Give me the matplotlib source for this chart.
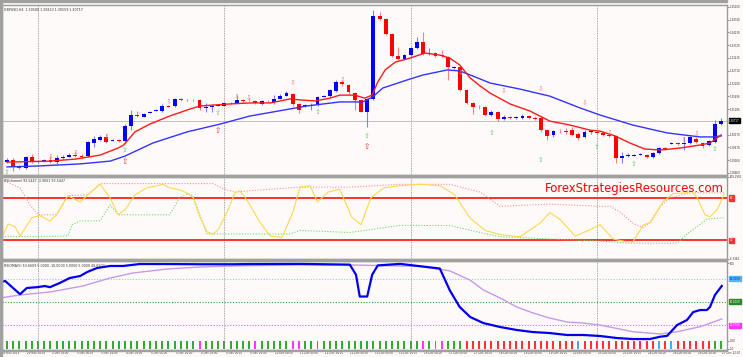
import matplotlib
matplotlib.use("Agg")
import matplotlib.pyplot as plt
from matplotlib.patches import Rectangle

# ---- price pane (GBPUSD H4) ----
opens = [1.2908, 1.2916, 1.2893, 1.2885, 1.2928, 1.2908, 1.2912, 1.2916, 1.2908, 1.2924,
         1.2928, 1.2936, 1.2932, 1.2932, 1.2984, 1.2996, 1.3008, 1.2992, 1.2996, 1.2992,
         1.3051, 1.3095, 1.3087, 1.3103, 1.3111, 1.3111, 1.3131, 1.3131, 1.3159, 1.3153,
         1.3155, 1.3155, 1.3123, 1.3127, 1.3131, 1.3131, 1.3141, 1.3143, 1.3155, 1.3155,
         1.3151, 1.3139, 1.3151, 1.3147, 1.3159, 1.3170, 1.3178, 1.3139, 1.3131, 1.3131,
         1.3135, 1.3166, 1.3170, 1.3190, 1.3226, 1.3214, 1.3182, 1.3155, 1.3107, 1.3159,
         1.3488, 1.3476, 1.3417, 1.3329, 1.3317, 1.3333, 1.3361, 1.3385, 1.3337, 1.3341,
         1.3333, 1.3325, 1.3282, 1.3286, 1.3194, 1.3143, 1.3127, 1.3127, 1.3095, 1.3107,
         1.3079, 1.3087, 1.3083, 1.3083, 1.3091, 1.3083, 1.3083, 1.3036, 1.3016, 1.3032,
         1.3032, 1.3036, 1.3020, 1.3008, 1.3028, 1.3028, 1.3024, 1.3016, 1.3012, 1.2924,
         1.2932, 1.2934, 1.2936, 1.2936, 1.2928, 1.2944, 1.2964, 1.2980, 1.2984, 1.2980,
         1.2984, 1.3000, 1.2984, 1.2976, 1.2988, 1.30580]
highs = [1.2924, 1.2924, 1.2897, 1.2932, 1.2940, 1.2916, 1.2920, 1.2932, 1.2936, 1.2936,
         1.2944, 1.2948, 1.2940, 1.2992, 1.3012, 1.3016, 1.3020, 1.3000, 1.3000, 1.3059,
         1.3115, 1.3111, 1.3103, 1.3111, 1.3119, 1.3139, 1.3135, 1.3162, 1.3162, 1.3159,
         1.3157, 1.3159, 1.3143, 1.3139, 1.3139, 1.3147, 1.3147, 1.3174, 1.3159, 1.3162,
         1.3155, 1.3155, 1.3155, 1.3174, 1.3178, 1.3190, 1.3182, 1.3143, 1.3139, 1.3143,
         1.3170, 1.3174, 1.3198, 1.3234, 1.3234, 1.3218, 1.3186, 1.3159, 1.3162, 1.3512,
         1.3504, 1.3480, 1.3421, 1.3365, 1.3337, 1.3365, 1.3405, 1.3425, 1.3361, 1.3345,
         1.3353, 1.3329, 1.3290, 1.3290, 1.3198, 1.3147, 1.3135, 1.3131, 1.3115, 1.3111,
         1.3095, 1.3091, 1.3091, 1.3099, 1.3095, 1.3091, 1.3087, 1.3040, 1.3036, 1.3040,
         1.3044, 1.3047, 1.3028, 1.3036, 1.3036, 1.3032, 1.3032, 1.3024, 1.3016, 1.2948,
         1.2944, 1.2940, 1.2944, 1.2940, 1.2948, 1.2968, 1.2968, 1.2988, 1.2988, 1.3008,
         1.3012, 1.3008, 1.2988, 1.2996, 1.3075, 1.30823]
lows = [1.2905, 1.2873, 1.2881, 1.2881, 1.2905, 1.2905, 1.2908, 1.2905, 1.2901, 1.2920,
        1.2928, 1.2928, 1.2924, 1.2928, 1.2968, 1.2992, 1.2984, 1.2992, 1.2988, 1.2984,
        1.3036, 1.3087, 1.3087, 1.3103, 1.3111, 1.3107, 1.3127, 1.3127, 1.3151, 1.3151,
        1.3151, 1.3115, 1.3107, 1.3107, 1.3131, 1.3131, 1.3139, 1.3143, 1.3147, 1.3151,
        1.3139, 1.3135, 1.3147, 1.3139, 1.3159, 1.3170, 1.3131, 1.3103, 1.3127, 1.3115,
        1.3131, 1.3166, 1.3166, 1.3186, 1.3210, 1.3178, 1.3115, 1.3107, 1.3047, 1.3155,
        1.3472, 1.3413, 1.3325, 1.3313, 1.3313, 1.3329, 1.3357, 1.3333, 1.3333, 1.3325,
        1.3325, 1.3234, 1.3278, 1.3190, 1.3139, 1.3099, 1.3119, 1.3091, 1.3091, 1.3071,
        1.3075, 1.3079, 1.3079, 1.3079, 1.3079, 1.3075, 1.3028, 1.2996, 1.3008, 1.3024,
        1.3020, 1.3012, 1.2996, 1.3004, 1.3020, 1.3020, 1.3012, 1.3008, 1.2905, 1.2905,
        1.2928, 1.2932, 1.2936, 1.2924, 1.2924, 1.2940, 1.2956, 1.2980, 1.2976, 1.2956,
        1.2980, 1.2984, 1.2964, 1.2972, 1.2984, 1.30559]
closes = [1.2916, 1.2889, 1.2885, 1.2928, 1.2908, 1.2912, 1.2916, 1.2908, 1.2924, 1.2928,
          1.2936, 1.2932, 1.2930, 1.2988, 1.3000, 1.3008, 1.2988, 1.2996, 1.2992, 1.3051,
          1.3095, 1.3091, 1.3099, 1.3107, 1.3115, 1.3131, 1.3127, 1.3159, 1.3155, 1.3155,
          1.3153, 1.3123, 1.3127, 1.3131, 1.3135, 1.3143, 1.3143, 1.3155, 1.3151, 1.3153,
          1.3143, 1.3151, 1.3149, 1.3159, 1.3170, 1.3182, 1.3139, 1.3115, 1.3135, 1.3135,
          1.3166, 1.3170, 1.3194, 1.3226, 1.3218, 1.3186, 1.3155, 1.3107, 1.3159, 1.3488,
          1.3476, 1.3417, 1.3329, 1.3317, 1.3333, 1.3361, 1.3385, 1.3337, 1.3341, 1.3329,
          1.3329, 1.3286, 1.3284, 1.3194, 1.3143, 1.3127, 1.3125, 1.3095, 1.3107, 1.3079,
          1.3087, 1.3083, 1.3087, 1.3091, 1.3083, 1.3081, 1.3036, 1.3012, 1.3032, 1.3030,
          1.3028, 1.3016, 1.3004, 1.3028, 1.3028, 1.3024, 1.3016, 1.3012, 1.2924, 1.2932,
          1.2936, 1.2936, 1.2940, 1.2928, 1.2944, 1.2964, 1.2960, 1.2984, 1.2980, 1.2982,
          1.3008, 1.2988, 1.2972, 1.2992, 1.3060, 1.30717]

fast_x = [0, 6.9, 11, 15, 17.9, 18.8, 20.6, 23, 26.2, 29.5, 31.1, 35.9, 39.1, 42.4, 45.6,
          47.2, 49.6, 52, 53.6, 56, 57.6, 58.8, 59.7, 60.9, 62.5, 64.9, 67.3, 69.7, 71.3,
          72.9, 74.6, 76.2, 77.8, 81, 84.2, 87.4, 90.7, 93.9, 95.5, 97.9, 100.3, 102.7,
          105.2, 108.4, 111.6, 113.2, 115]
fast_ma = [1.2908, 1.2912, 1.2920, 1.2936, 1.2964, 1.2976, 1.3028, 1.3059, 1.3091, 1.3119,
           1.3131, 1.3139, 1.3143, 1.3143, 1.3159, 1.3155, 1.3151, 1.3162, 1.3174, 1.3174,
           1.3162, 1.3174, 1.3226, 1.3274, 1.3305, 1.3321, 1.3341, 1.3333, 1.3321, 1.3294,
           1.3242, 1.3210, 1.3182, 1.3139, 1.3111, 1.3071, 1.3055, 1.3035, 1.3031, 1.3012,
           1.2984, 1.2960, 1.2956, 1.2964, 1.2976, 1.2984, 1.3016]
slow_x = [0, 5.3, 11.8, 16.6, 19, 23.5, 29, 34.3, 39.1, 42.8, 48.3, 53.6, 57.3, 58.9, 60.5,
          64.4, 67, 70.9, 72.9, 75, 77.8, 82.6, 87.4, 92.3, 95.5, 100.8, 106.3, 111.6, 113.7, 115]
slow_ma = [1.2889, 1.2893, 1.2901, 1.2912, 1.2932, 1.2984, 1.3028, 1.3059, 1.3091, 1.3107,
           1.3131, 1.3147, 1.3147, 1.3167, 1.3202, 1.3234, 1.3254, 1.3274, 1.3270, 1.3250,
           1.3222, 1.3198, 1.3170, 1.3123, 1.3095, 1.3055, 1.3024, 1.3008, 1.3008, 1.3012]

sig_green_x = [0, 19, 34, 50, 58, 78, 86, 95, 101, 114]
sig_green_y = [1.2869, 1.2956, 1.3103, 1.3107, 1.3012, 1.3024, 1.2916, 1.2968, 1.2901, 1.2960]
sig_red_x = [19, 34, 58]
sig_red_y = [1.2912, 1.3035, 1.2972]
sig_pink_x = [7, 11, 16, 26, 37, 39, 46, 54, 73, 80, 86, 93, 97, 109, 111]
sig_pink_y = [1.2928, 1.2944, 1.3008, 1.3147, 1.3167, 1.3163, 1.3222, 1.3234, 1.3262,
              1.3190, 1.3198, 1.3143, 1.3024, 1.2996, 1.3020]

price_ticks = [1.35250, 1.34740, 1.34230, 1.33720, 1.33215, 1.32710, 1.32200, 1.31695,
               1.31185, 1.30170, 1.29670, 1.29160, 1.28660]

# ---- RSI channel pane ----
rsi_x = [-0.8, 0.2, 1.3, 2.1, 4, 5.3, 6.9, 8, 9.8, 11.8, 13, 15, 16.6, 17.9, 19, 20.6, 22.5,
         24.2, 25.1, 26.2, 27.4, 28.7, 30, 31.1, 32.2, 33.2, 34, 35.4, 36.7, 37.5, 38.3, 39.1,
         40.7, 42.4, 44.3, 46, 47.2, 48.8, 50, 51.7, 53.6, 55.5, 57, 58.6, 60.7, 63.3, 66.5,
         69.7, 72, 74.6, 77, 79.4, 82.6, 85.8, 87.4, 89, 91.5, 93.9, 95.5, 97.6, 99.7, 100.8,
         102.5, 103.6, 104.1, 105.7, 107.3, 109.4, 110.2, 111.1, 112.4, 113.2, 114.4, 115.5]
rsi_val = [25, 43, 39, 26, 52, 55, 47, 56, 83, 74, 84, 99, 80, 56, 63, 84, 94, 97, 99, 94,
           92, 88, 80, 52, 32, 29, 35, 59, 87, 90, 81, 70, 46, 26, 24, 59, 95, 97, 74, 88,
           92, 53, 42, 80, 94, 97, 99, 97, 85, 51, 34, 28, 25, 44, 59, 50, 26, 35, 42, 22, 18,
           18, 42, 45, 52, 75, 86, 87, 89, 81, 56, 53, 64, 85]
upper_x = [-0.8, 2.1, 3.7, 5, 8, 9.8, 13, 15, 33.2, 34.8, 36.7, 39.1, 47.2, 55.2, 63.3,
           71.3, 76.2, 79.4, 87.4, 95.5, 97.1, 98.7, 100.8, 102.4, 103.5, 105.2, 106.8, 110, 115.5]
upper_val = [105, 94, 70, 56, 56, 83, 84, 100, 100, 93, 88, 90, 95, 95, 99, 99, 88, 68,
             71, 68, 68, 60, 44, 38, 45, 68, 80, 87, 87]
lower_x = [-0.8, 9.8, 10.5, 11.8, 15, 16.6, 17.9, 26.2, 27.8, 29.1, 29.9, 32.2, 39.1, 45.6,
           47.2, 55.2, 63.3, 71.3, 76.2, 79.4, 95.5, 99.9, 107.9, 109.5, 111.1, 112.7, 115.5]
lower_val = [25, 26, 42, 47.5, 47.5, 70, 56, 56, 80, 86, 83, 29, 29, 29, 34, 31, 41, 41,
             31, 25, 19, 16, 16, 29, 39, 50, 52]

# ---- RSIOMA pane ----
oma_x = [-0.8, -0.3, 2.1, 3.2, 4.8, 6.1, 6.9, 8.5, 10.1, 11.8, 12.9, 14.5, 16.6, 18.7, 21.4,
         25.8, 31.1, 36.4, 39.1, 47.2, 55.2, 56.2, 56.8, 58, 58.8, 59.7, 63.3, 69.7, 71.3,
         72.9, 74.6, 76.7, 79.4, 82.1, 84.7, 87.4, 90.2, 92.8, 95.5, 98.2, 100.8, 103.5,
         105.2, 106.3, 107.9, 109.5, 110.5, 111.6, 112.7, 113.2, 114, 115.1]
oma_val = [76, 77, 60, 68, 69, 70.5, 69, 74.4, 80.8, 83.4, 88.5, 93.7, 96.3, 96.3, 98.8,
           98.8, 98.5, 98.5, 98.8, 99, 98, 85, 57, 57, 85, 97, 99, 93, 65, 43.5, 30.6, 22.9,
           17.8, 13.9, 11.3, 10, 7.5, 7.5, 6.2, 3.6, 2.3, 2.3, 5.3, 6.4, 20.3, 26.8, 37, 39.6,
           39.6, 43.5, 59, 70.6]
oma_ma_x = [-0.8, 2.1, 6.9, 12.2, 16.6, 20.3, 25.8, 31.1, 36.4, 39.1, 47.2, 55.2, 63.3, 66.5,
            71.3, 74.6, 76.7, 79.4, 82.1, 84.7, 87.4, 90.2, 92.8, 95.5, 100.8, 105.2, 107.9,
            111.6, 115.1]
oma_ma_val = [55.5, 59, 62.8, 70.5, 80.8, 87.3, 92.4, 95, 96.3, 96.7, 97.6, 97.6, 96.3, 96,
              90, 78, 65.4, 55.1, 43.5, 35.8, 29.3, 24.2, 22.9, 20.3, 11.7, 8.8, 11.7, 18.1, 28.1]
# histogram state per candle: g=green, m=magenta, r=red, b=light blue
hist_state = ("ggggggggggggggggggggggggggggggg" "m" "gggggggg" "m" "ggggg" "mm"
              "ggggggggggggggggggg" "m" "g" "mm" "ggg" "rrrrrrrrrrrrrrrrrr" "b"
              "rrrrrrrrrrrr" "b" "r" "b" "rrrrrr" "gg")

time_labels = ["29 Nov 2019", "29 Nov 16:00", "2 Dec 08:00", "3 Dec 00:00", "3 Dec 16:00",
               "4 Dec 08:00", "5 Dec 00:00", "5 Dec 16:00", "6 Dec 08:00", "9 Dec 00:00",
               "9 Dec 16:00", "10 Dec 08:00", "11 Dec 00:00", "11 Dec 16:00", "12 Dec 08:00",
               "13 Dec 00:00", "13 Dec 16:00", "16 Dec 08:00", "17 Dec 00:00", "17 Dec 16:00",
               "18 Dec 08:00", "19 Dec 00:00", "19 Dec 16:00", "20 Dec 08:00", "23 Dec 00:00",
               "23 Dec 16:00", "24 Dec 08:00", "26 Dec 04:00", "26 Dec 20:00", "27 Dec 12:00"]
week_starts = [5, 35, 65, 95]

BG = "#FFFAFA"
GRID = "#8c8c8c"
FS = 1.9
W, H = 743, 357
fig = plt.figure(figsize=(W / 100, H / 100), dpi=100, facecolor=BG)

def box(top, bottom):
    return [2 / W, 1 - bottom / H, 725 / W, (bottom - top) / H]

ax1 = fig.add_axes(box(5, 175))
ax2 = fig.add_axes(box(177, 259))
ax3 = fig.add_axes(box(261, 350))
xmin, xmax = -0.805, 115.94

for ax in (ax1, ax2, ax3):
    ax.set_facecolor(BG)
    ax.set_xlim(xmin, xmax)
    for s in ax.spines.values():
        s.set_color("#9a9a9a")
        s.set_linewidth(1.0)
    ax.yaxis.tick_right()
    ax.tick_params(axis="y", labelsize=FS, length=1.5, width=0.4, pad=0.8, colors="#333333")
    ax.tick_params(axis="x", length=0)
    ax.set_xticks([])
    for w in week_starts:
        ax.axvline(w, color=GRID, lw=0.6, ls=(0, (1, 1)))

# separators between panes
for y0, y1 in [(0, 2), (175, 177), (259, 261), (350, 351)]:
    fig.patches.append(Rectangle((0, 1 - y1 / H), 727 / W, (y1 - y0) / H,
                                 transform=fig.transFigure, color="#a0a0a0", zorder=5))
fig.patches.append(Rectangle((0, 0), 2 / W, 1, transform=fig.transFigure, color="#a0a0a0"))

# ---- price pane ----
ax1.set_ylim(1.28569, 1.35318)
ax1.axhline(closes[-1], color="#c0c0c0", lw=0.7)
for i in range(len(closes)):
    up = closes[i] >= opens[i]
    col = "#0000FF" if up else "#FF0000"
    wick = "#7f7fff" if up else "#ff7f7f"
    ax1.vlines(i, lows[i], highs[i], color=wick, lw=0.8, zorder=2)
    lo, hi = min(opens[i], closes[i]), max(opens[i], closes[i])
    ax1.bar(i, max(hi - lo, 0.0003), bottom=lo, width=0.62, color=col, lw=0, zorder=3)
ax1.plot(slow_x, slow_ma, color="#3333ff", lw=1.0, zorder=4)
ax1.plot(fast_x, fast_ma, color="#ff1a1a", lw=1.0, zorder=4)
for x, y in zip(sig_green_x, sig_green_y):
    ax1.text(x, y, "\u21e7", color="#66cc66", fontsize=5, ha="center", va="center", zorder=5)
for x, y in zip(sig_red_x, sig_red_y):
    ax1.text(x, y, "\u21e7", color="#ff3333", fontsize=5.5, ha="center", va="center", zorder=5)
for x, y in zip(sig_pink_x, sig_pink_y):
    ax1.text(x, y, "\u21e9", color="#ff8080", fontsize=5, ha="center", va="center", zorder=5)
ax1.set_yticks(price_ticks)
ax1.set_yticklabels([f"{t:.5f}" for t in price_ticks])
ax1.text(1.003, (closes[-1] - 1.28569) / (1.35318 - 1.28569), f"{closes[-1]:.5f}",
         transform=ax1.transAxes, fontsize=FS, color="white", va="center", ha="left",
         bbox=dict(boxstyle="square,pad=0.2", fc="black", ec="black"))
ax1.text(0.003, 0.985, "GBPUSD,H4  1.30580 1.30823 1.30559 1.30717", transform=ax1.transAxes,
         fontsize=2.3, color="#333333", va="top", ha="left")

# ---- RSI channel pane ----
ax2.set_ylim(-6.3364, 109.2902)
ax2.axhline(80, color="#ff2020", lw=1.3)
ax2.axhline(20, color="#ff2020", lw=1.3)
ax2.plot(upper_x, upper_val, color="#ff9090", lw=0.8, ls=(0, (1, 1.5)))
ax2.plot(lower_x, lower_val, color="#66dd66", lw=0.8, ls=(0, (1, 1.5)))
ax2.plot(rsi_x, rsi_val, color="#ffd84d", lw=0.8)
ax2.set_yticks([109.2902, -6.3364])
ax2.set_yticklabels(["109.2902", "-6.3364"])
for lvl in (80, 20):
    ax2.text(1.004, (lvl + 6.3364) / 115.6266, str(lvl), transform=ax2.transAxes, fontsize=FS,
             color="white", va="center", ha="left",
             bbox=dict(boxstyle="square,pad=0.3", fc="#ff3030", ec="#ff3030"))
ax2.text(0.003, 0.97, "RSIchannel 93.5447 -3.9061 93.5447", transform=ax2.transAxes,
         fontsize=2.3, color="#333333", va="top", ha="left")
ax2.text(0.749, 0.865, "ForexStrategiesResources.com", transform=ax2.transAxes,
         fontsize=8.4, color="#ff0000", va="center", ha="left")

# ---- RSIOMA pane ----
ax3.set_ylim(-11.8, 102.7)
ax3.axhline(80, color="#87cefa", lw=0.8, ls=(0, (1, 1.5)))
ax3.axhline(50, color="#33aa33", lw=0.8, ls=(0, (1, 1.5)))
ax3.axhline(20, color="#ee66ee", lw=0.8, ls=(0, (1, 1.5)))
hist_colors = {"g": "#33aa33", "m": "#ff33ff", "r": "#ff3333", "b": "#4da6ff"}
for i, s in enumerate(hist_state):
    ax3.bar(i, -10, bottom=0, width=0.32, color=hist_colors[s], lw=0)
ax3.plot(oma_ma_x, oma_ma_val, color="#c39be8", lw=1.0)
ax3.plot(oma_x, oma_val, color="#0000ee", lw=1.6)
ax3.set_yticks([100, 0, -10])
ax3.set_yticklabels(["100", "0.00", "-10"])
for lvl, fc, tc in [(80, "#4db8ff", "#003366"), (50, "#228b22", "white"), (20, "#ff33ff", "white")]:
    ax3.text(1.004, (lvl + 11.8) / 114.5, f"{lvl:.4f}", transform=ax3.transAxes, fontsize=FS,
             color=tc, va="center", ha="left",
             bbox=dict(boxstyle="square,pad=0.2", fc=fc, ec=fc))
ax3.text(0.003, 0.97, "RSIOMA(5) 53.6609 5.0000 -10.0000 5.0000 5.0000 40.6902",
         transform=ax3.transAxes, fontsize=2.3, color="#333333", va="top", ha="left")
for k, lab in enumerate(time_labels):
    ax3.text(4 * k - 0.8, -0.015, lab, transform=ax3.get_xaxis_transform(), fontsize=2.0,
             color="#333333", va="top", ha="left")

fig.savefig("out.png", dpi=100, facecolor=BG)
